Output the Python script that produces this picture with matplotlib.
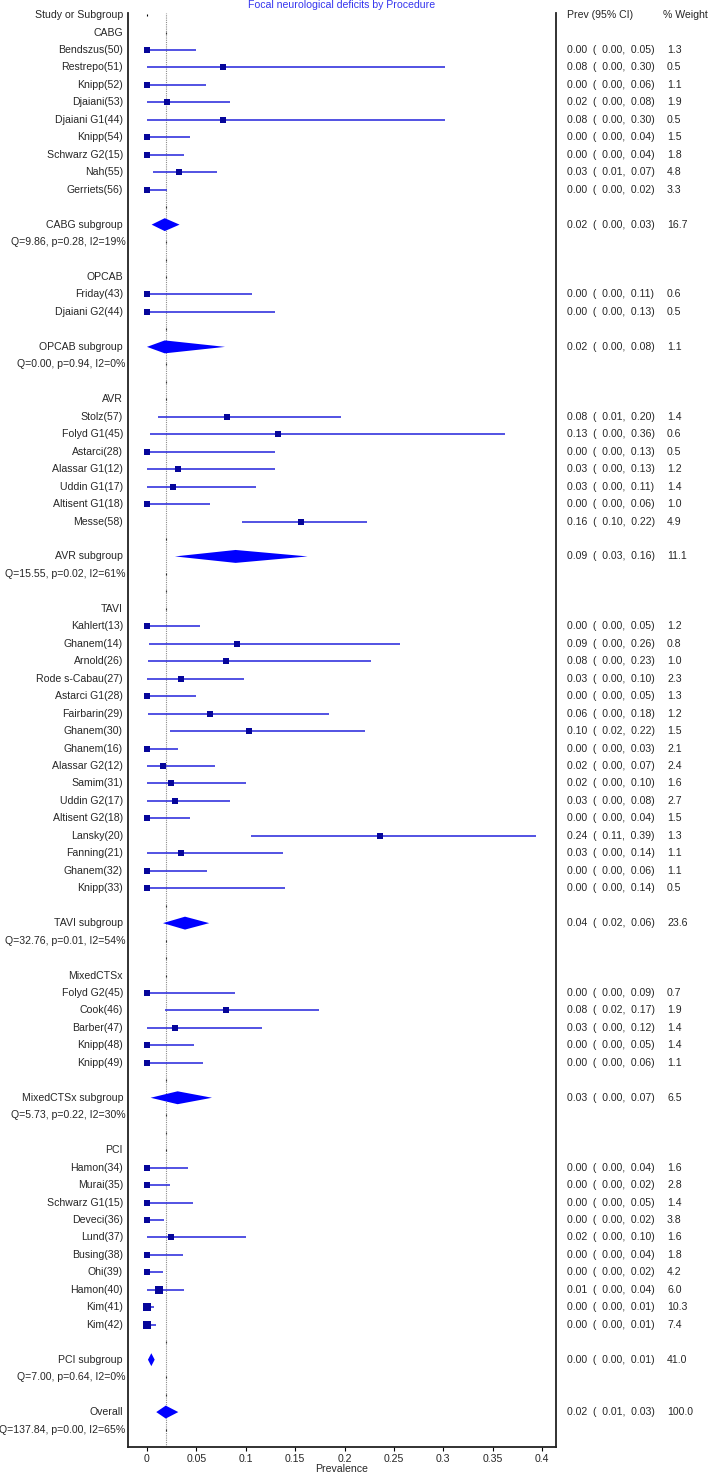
import numpy as np
import matplotlib
matplotlib.use('Agg')
import matplotlib.pyplot as plt
import matplotlib.transforms as mtransforms

plt.rcParams['font.family'] = ['Liberation Sans', 'DejaVu Sans']

# --- data ---
cabg_names = ['Bendszus(50)', 'Restrepo(51)', 'Knipp(52)', 'Djaiani(53)', 'Djaiani G1(44)',
              'Knipp(54)', 'Schwarz G2(15)', 'Nah(55)', 'Gerriets(56)']
cabg_est = [0.0, 0.077, 0.0, 0.020, 0.077, 0.0, 0.0, 0.032, 0.0]
cabg_lo = [0.0, 0.0, 0.0, 0.0, 0.0, 0.0, 0.0, 0.0064, 0.0]
cabg_hi = [0.0496, 0.302, 0.060, 0.084, 0.302, 0.044, 0.037, 0.071, 0.020]
cabg_w = [1.3, 0.5, 1.1, 1.9, 0.5, 1.5, 1.8, 4.8, 3.3]

opcab_names = ['Friday(43)', 'Djaiani G2(44)']
opcab_est = [0.0, 0.0]
opcab_lo = [0.0, 0.0]
opcab_hi = [0.106, 0.1296]
opcab_w = [0.6, 0.5]

avr_names = ['Stolz(57)', 'Folyd G1(45)', 'Astarci(28)', 'Alassar G1(12)', 'Uddin G1(17)',
             'Altisent G1(18)', 'Messe(58)']
avr_est = [0.081, 0.133, 0.0, 0.0314, 0.026, 0.0, 0.156]
avr_lo = [0.0108, 0.0034, 0.0, 0.0, 0.0, 0.0, 0.0965]
avr_hi = [0.196, 0.362, 0.1296, 0.130, 0.110, 0.0634, 0.223]
avr_w = [1.4, 0.6, 0.5, 1.2, 1.4, 1.0, 4.9]

tavi_names = ['Kahlert(13)', 'Ghanem(14)', 'Arnold(26)', 'Rode s-Cabau(27)', 'Astarci G1(28)',
              'Fairbarin(29)', 'Ghanem(30)', 'Ghanem(16)', 'Alassar G2(12)', 'Samim(31)',
              'Uddin G2(17)', 'Altisent G2(18)', 'Lansky(20)', 'Fanning(21)', 'Ghanem(32)',
              'Knipp(33)']
tavi_est = [0.0, 0.091, 0.080, 0.034, 0.0, 0.064, 0.103, 0.0, 0.0162, 0.0243,
            0.0287, 0.0, 0.236, 0.034, 0.0, 0.0]
tavi_lo = [0.0, 0.0024, 0.0014, 0.0, 0.0, 0.001, 0.0233, 0.0, 0.0, 0.0,
           0.0, 0.0, 0.1056, 0.0, 0.0, 0.0]
tavi_hi = [0.054, 0.256, 0.227, 0.098, 0.0496, 0.184, 0.221, 0.0314, 0.0685, 0.1005,
           0.084, 0.0439, 0.394, 0.138, 0.061, 0.1397]
tavi_w = [1.2, 0.8, 1.0, 2.3, 1.3, 1.2, 1.5, 2.1, 2.4, 1.6, 2.7, 1.5, 1.3, 1.1, 1.1, 0.5]

mixed_names = ['Folyd G2(45)', 'Cook(46)', 'Barber(47)', 'Knipp(48)', 'Knipp(49)']
mixed_est = [0.0, 0.080, 0.028, 0.0, 0.0]
mixed_lo = [0.0, 0.0182, 0.0, 0.0, 0.0]
mixed_hi = [0.0894, 0.174, 0.116, 0.048, 0.057]
mixed_w = [0.7, 1.9, 1.4, 1.4, 1.1]

pci_names = ['Hamon(34)', 'Murai(35)', 'Schwarz G1(15)', 'Deveci(36)', 'Lund(37)',
             'Busing(38)', 'Ohi(39)', 'Hamon(40)', 'Kim(41)', 'Kim(42)']
pci_est = [0.0, 0.0, 0.0, 0.0, 0.0243, 0.0, 0.0, 0.0125, 0.0, 0.0]
pci_lo = [0.0] * 10
pci_hi = [0.042, 0.0233, 0.0466, 0.0172, 0.1005, 0.0364, 0.0159, 0.0378, 0.0074, 0.0094]
pci_w = [1.6, 2.8, 1.4, 3.8, 1.6, 1.8, 4.2, 6.0, 10.3, 7.4]

group_labels = ['CABG', 'OPCAB', 'AVR', 'TAVI', 'MixedCTSx', 'PCI']
sub_est = [0.018, 0.018, 0.0897, 0.0385, 0.031, 0.0044]
sub_lo = [0.0047, 0.0, 0.0283, 0.0162, 0.0037, 0.001]
sub_hi = [0.033, 0.079, 0.1626, 0.063, 0.0658, 0.0078]
sub_w = [16.7, 1.1, 11.1, 23.6, 6.5, 41.0]
sub_q = ['Q=9.86, p=0.28, I2=19%', 'Q=0.00, p=0.94, I2=0%', 'Q=15.55, p=0.02, I2=61%',
         'Q=32.76, p=0.01, I2=54%', 'Q=5.73, p=0.22, I2=30%', 'Q=7.00, p=0.64, I2=0%']

overall_est, overall_lo, overall_hi = 0.019, 0.0094, 0.0317
overall_q = 'Q=137.84, p=0.00, I2=65%'

studies = [
    (cabg_names, cabg_est, cabg_lo, cabg_hi, cabg_w),
    (opcab_names, opcab_est, opcab_lo, opcab_hi, opcab_w),
    (avr_names, avr_est, avr_lo, avr_hi, avr_w),
    (tavi_names, tavi_est, tavi_lo, tavi_hi, tavi_w),
    (mixed_names, mixed_est, mixed_lo, mixed_hi, mixed_w),
    (pci_names, pci_est, pci_lo, pci_hi, pci_w),
]

W, H = 709, 1472
fig = plt.figure(figsize=(W / 100, H / 100), dpi=100)
ax = fig.add_axes([128 / W, 1 - 1447 / H, (556 - 128) / W, (1447 - 13) / H])

line_col = '#2c2cdc'
box_col = '#06069a'
diam_col = '#0000ff'
txt_col = '#262626'
fs = 7.6

tr = mtransforms.blended_transform_factory(fig.transFigure, ax.transData)
x_lab = 123 / W
x_q = 125.5 / W
x_prev = 567 / W
x_wt = 667 / W


def ci_text(e, l, h):
    return f'{e:.2f}  (  {l:.2f},  {h:.2f})'


def label(r, s, x=x_lab):
    ax.text(x, r, s, transform=tr, ha='right', va='center', fontsize=fs,
            color=txt_col, clip_on=False)


def right_cols(r, e, l, h, w):
    ax.text(x_prev, r, ci_text(e, l, h), transform=tr, ha='left', va='center',
            fontsize=fs, color=txt_col, clip_on=False)
    ax.text(x_wt, r, f'{w:.1f}', transform=tr, ha='left', va='center',
            fontsize=fs, color=txt_col, clip_on=False)


def diamond(r, e, l, h):
    ax.fill([l, e, h, e], [r, r - 0.37, r, r + 0.37], color=diam_col, lw=0)


ref = overall_est
empty_rows = []

# header row
label(0, 'Study or Subgroup')
ax.text(x_prev, 0, 'Prev (95% CI)', transform=tr, ha='left', va='center',
        fontsize=fs, color=txt_col, clip_on=False)
ax.text(663 / W, 0, '% Weight', transform=tr, ha='left', va='center',
        fontsize=fs, color=txt_col, clip_on=False)
ax.plot(0, 0, marker='|', ms=2, color='k', mew=0.8)

r = 1
for gi, (names, est, lo, hi, wts) in enumerate(studies):
    label(r, group_labels[gi])
    empty_rows.append(r)
    r += 1
    for n, e, l, h, w in zip(names, est, lo, hi, wts):
        label(r, n)
        ax.hlines(r, l, h, color=line_col, lw=1.15)
        size_px = 4.2 + 1.25 * np.sqrt(w)
        ax.plot(e, r, marker='s', ms=size_px * 0.72, color=box_col, mew=0)
        right_cols(r, e, l, h, w)
        r += 1
    empty_rows.append(r)
    r += 1
    label(r, group_labels[gi] + ' subgroup')
    diamond(r, sub_est[gi], sub_lo[gi], sub_hi[gi])
    right_cols(r, sub_est[gi], sub_lo[gi], sub_hi[gi], sub_w[gi])
    r += 1
    label(r, sub_q[gi], x_q)
    empty_rows.append(r)
    r += 1
    empty_rows.append(r)
    r += 1

label(r, 'Overall')
diamond(r, overall_est, overall_lo, overall_hi)
right_cols(r, overall_est, overall_lo, overall_hi, 100.0)
r += 1
label(r, overall_q, x_q)
empty_rows.append(r)

ax.axvline(ref, color='#8c8c8c', ls=(0, (1, 1)), lw=0.8, zorder=0)
ax.plot([ref] * len(empty_rows), empty_rows, ls='none', marker='|', ms=2,
        color='#333333', mew=0.8)

ax.set_xlim(-0.0192, 0.414)
ax.set_ylim(82.0, -0.12)
ax.set_yticks([])
ticks = np.arange(0, 0.401, 0.05)
ax.set_xticks(ticks)
ax.set_xticklabels([f'{t:g}' for t in ticks], fontsize=fs, color=txt_col)
ax.tick_params(axis='x', length=3, width=0.8, pad=2, direction='out')
ax.set_xlabel('Prevalence', fontsize=fs, color=txt_col, labelpad=0)
ax.spines['top'].set_visible(False)
for s in ['left', 'right', 'bottom']:
    ax.spines[s].set_linewidth(1.3)
    ax.spines[s].set_color('#222222')

fig.text(342 / W, 1 - 5.5 / H, 'Focal neurological deficits by Procedure', ha='center',
         va='center', fontsize=fs, color='#3535ee')

fig.savefig('out.png', dpi=100)
